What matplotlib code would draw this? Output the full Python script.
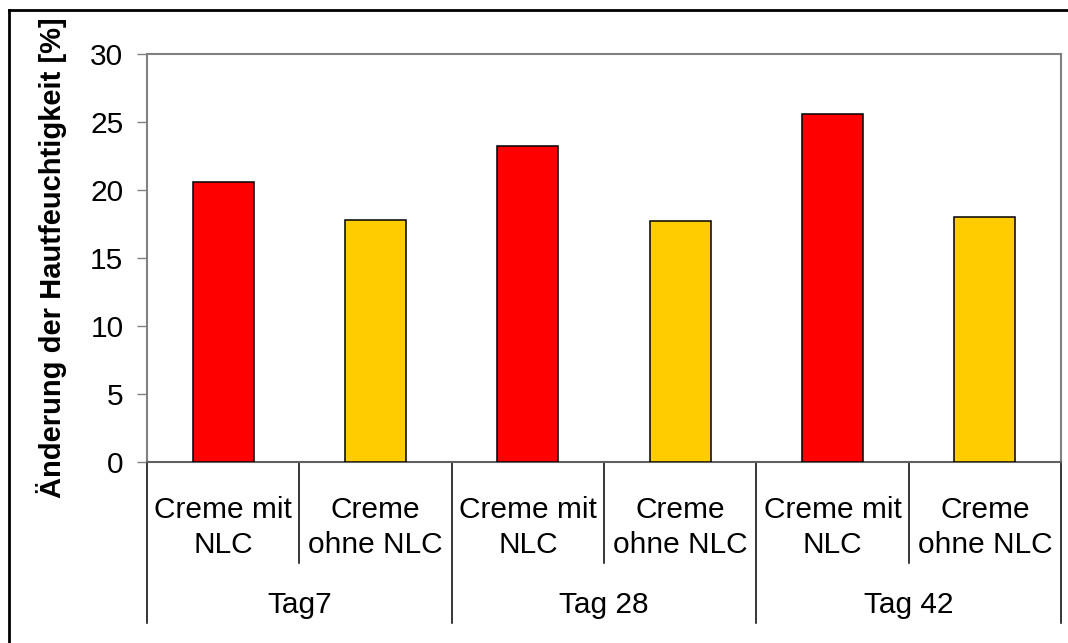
import matplotlib.pyplot as plt
import numpy as np
from matplotlib.lines import Line2D
from matplotlib.transforms import blended_transform_factory

plt.rcParams['font.family'] = ['Liberation Sans', 'DejaVu Sans']

groups = ["Tag7", "Tag 28", "Tag 42"]
products = ["Creme mit\nNLC", "Creme\nohne NLC"]
mit_nlc = [20.6, 23.2, 25.6]
ohne_nlc = [17.8, 17.7, 18.0]
bar_colors = ["#FF0000", "#FFCC00"]

fig = plt.figure(figsize=(10.68, 6.43), dpi=100)
ax = fig.add_axes([147 / 1068, 1 - 462 / 643, 914 / 1068, 408 / 643])

values = []
cols = []
for a, b in zip(mit_nlc, ohne_nlc):
    values += [a, b]
    cols += bar_colors
x = np.arange(len(values)) + 0.5
ax.bar(x, values, width=0.4, color=cols, edgecolor='black', linewidth=1.1, zorder=3)

ax.set_xlim(0, len(values))
ax.set_ylim(0, 30)
ax.set_yticks(np.arange(0, 31, 5))
ax.tick_params(axis='y', direction='out', length=7, width=1, color='#808080', labelsize=21.5, pad=10)
ax.set_xticks([])
for s in ['top', 'right', 'left']:
    ax.spines[s].set_color('#808080')
    ax.spines[s].set_linewidth(1.5)
ax.spines['bottom'].set_color('#606060')
ax.spines['bottom'].set_linewidth(1.5)

ax.set_ylabel("Änderung der Hautfeuchtigkeit [%]", fontsize=21, fontweight='bold')
ax.yaxis.set_label_coords(-0.087, 0.5)

# multi-level category axis
tr = blended_transform_factory(ax.transData, ax.transAxes)
for i in range(len(values) + 1):
    bottom = -0.395 if i % 2 == 0 else -0.2475
    ax.add_line(Line2D([i, i], [0, bottom], transform=tr, color='black', lw=1.1, clip_on=False))
for i, v in enumerate(values):
    ax.text(i + 0.5, -0.16, products[i % 2], transform=tr, ha='center', va='center',
            fontsize=21.5, linespacing=1.32)
for g, name in enumerate(groups):
    ax.text(2 * g + 1, -0.35, name, transform=tr, ha='center', va='center', fontsize=21.5)

# outer frame (only left and top edges visible)
fig.add_artist(Line2D([9 / 1068, 9 / 1068], [0, 1 - 10 / 643], transform=fig.transFigure,
                      color='black', lw=2))
fig.add_artist(Line2D([9 / 1068, 1], [1 - 10 / 643, 1 - 10 / 643], transform=fig.transFigure,
                      color='black', lw=2))

fig.savefig("out.png", dpi=100)
